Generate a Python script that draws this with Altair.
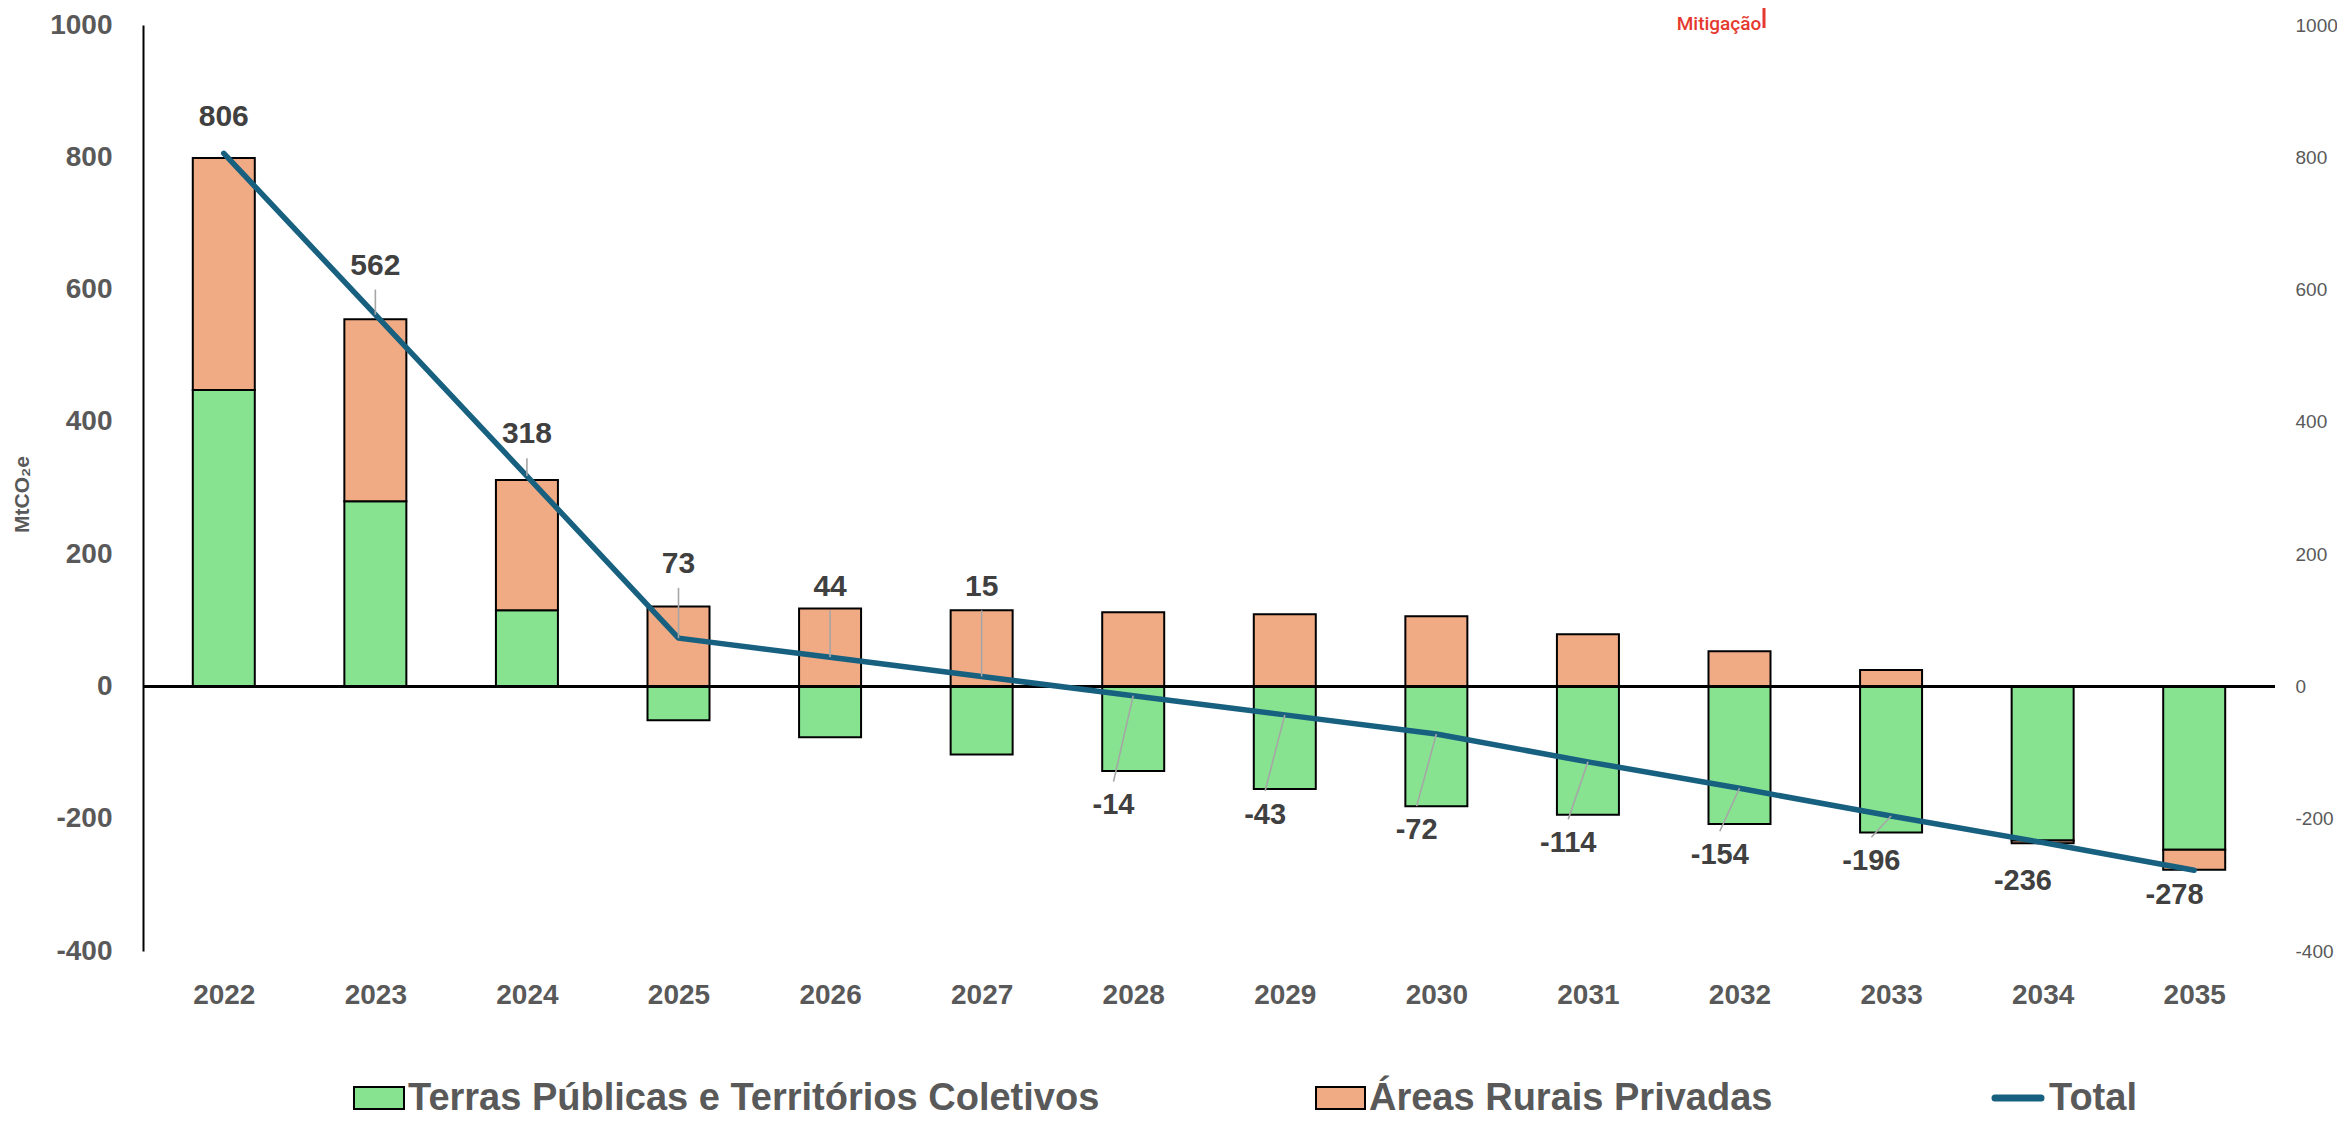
import altair as alt
import pandas as pd

# ---- data ----
years = list(range(2022, 2036))
series_names = ["Terras Públicas e Territórios Coletivos", "Áreas Rurais Privadas", "Total"]
terras = [448, 280, 115, -51, -77, -103, -128, -155, -181, -194, -208, -221, -233, -247]
areas = [351, 275, 197, 121, 118, 115, 112, 109, 106, 79, 53, 25, -4, -30]
total = [806, 562, 318, 73, 44, 15, -14, -43, -72, -114, -154, -196, -236, -278]
# vertical placement of each data label (in MtCO2e units), as placed in the reference
label_y = [861, 636, 381, 185, 151, 151, -180, -194, -217, -237, -255, -264, -294, -315]
y_ticks = [-400, -200, 0, 200, 400, 600, 800, 1000]

GREEN = "#87E390"
ORANGE = "#F1AB84"
BLUE = "#17607F"
GRAY_TXT = "#595959"
DARK_TXT = "#404040"
FONT = "Liberation Sans, Arial, sans-serif"
NARROW = "Liberation Sans Narrow, Arial Narrow, Liberation Sans, sans-serif"

W, H = 2132, 926

bars_df = pd.DataFrame({
    "year": years * 2,
    "series": [series_names[0]] * len(years) + [series_names[1]] * len(years),
    "value": terras + areas,
    "ord": [0] * len(years) + [1] * len(years),
})
tot_df = pd.DataFrame({"year": years, "total": total, "label_y": label_y})
one = pd.DataFrame({"k": [0]})

xscale = alt.Scale(domain=[2021.5, 2035.5], nice=False, zero=False)
yscale = alt.Scale(domain=[-400, 1000], nice=False, zero=False)

x_axis = alt.Axis(values=years, labelExpr="'' + datum.value", labelFont=FONT, labelFontSize=28,
                  labelFontWeight="bold", labelColor=GRAY_TXT, ticks=False, tickSize=0,
                  domain=False, grid=False, labelPadding=30, title=None)
y_left = alt.Axis(values=y_ticks, labelExpr="'' + datum.value", labelFont=FONT, labelFontSize=28,
                  labelFontWeight="bold", labelColor=GRAY_TXT, ticks=False, tickSize=0,
                  domain=True, domainColor="black", domainWidth=2, grid=False,
                  labelPadding=31, title="MtCO₂e", titleFont=FONT, titleFontSize=21,
                  titleFontWeight="bold", titleColor=GRAY_TXT, titleAngle=270,
                  titleX=-121, titleY=469, titleAlign="center", titleBaseline="middle")
y_right = alt.Axis(values=y_ticks, labelExpr="'' + datum.value", orient="right", labelFont=FONT,
                   labelFontSize=19, labelFontWeight="normal", labelColor=GRAY_TXT,
                   ticks=False, tickSize=0, domain=False, grid=False, labelPadding=20,
                   title=None)

x_year = alt.X("year:Q", scale=xscale, axis=x_axis)

bars = alt.Chart(bars_df).mark_bar(size=62, stroke="black", strokeWidth=2).encode(
    x=x_year,
    y=alt.Y("value:Q", scale=yscale, axis=y_left, stack="zero"),
    color=alt.Color("series:N", scale=alt.Scale(domain=series_names[:2], range=[GREEN, ORANGE]),
                    legend=None),
    order=alt.Order("ord:Q"),
)

zero = alt.Chart(pd.DataFrame({"v": [0]})).mark_rule(color="black", strokeWidth=3).encode(
    y=alt.Y("v:Q", scale=yscale, axis=y_right),
    x=alt.value(0), x2=alt.value(W),
)

line = alt.Chart(tot_df).mark_line(color=BLUE, strokeWidth=5.5, strokeCap="round",
                                   strokeJoin="round").encode(
    x=x_year,
    y=alt.Y("total:Q", scale=yscale, axis=None),
)

base_lbl = alt.Chart(tot_df).transform_calculate(
    lx="datum.total < 0 ? datum.year - 0.13 : datum.year",
    ly="datum.total < 0 ? datum.label_y + 36 : datum.label_y - 36",
    gap="abs(datum.label_y - datum.total)",
    txt="'' + datum.total",
)

leaders = base_lbl.transform_filter("datum.gap > 60").mark_rule(
    color="#A6A6A6", strokeWidth=1.6).encode(
    x=x_year,
    y=alt.Y("total:Q", scale=yscale, axis=None),
    x2="lx:Q", y2="ly:Q",
)

pos_lbl = base_lbl.transform_filter("datum.total >= 0").mark_text(
    font=FONT, fontSize=30, fontWeight="bold", color=DARK_TXT, baseline="middle").encode(
    x=alt.X("lx:Q", scale=xscale, axis=x_axis),
    y=alt.Y("label_y:Q", scale=yscale, axis=None),
    text=alt.Text("txt:N"),
)
neg_lbl = base_lbl.transform_filter("datum.total < 0").mark_text(
    font=NARROW, fontSize=29, fontWeight="bold", color=DARK_TXT, baseline="middle").encode(
    x=alt.X("lx:Q", scale=xscale, axis=x_axis),
    y=alt.Y("label_y:Q", scale=yscale, axis=None),
    text=alt.Text("txt:N"),
)

# ---- manual legend below the plot ----
LEG_FS = 38
LEG_BASE = 1085
sw1 = alt.Chart(one).mark_rect(fill=GREEN, stroke="black", strokeWidth=2).encode(
    x=alt.value(211), x2=alt.value(261), y=alt.value(LEG_BASE - 23), y2=alt.value(LEG_BASE - 1))
tx1 = alt.Chart(one).mark_text(align="left", baseline="alphabetic", font=NARROW,
                               fontSize=LEG_FS, fontWeight="bold", color=GRAY_TXT).encode(
    x=alt.value(265), y=alt.value(LEG_BASE), text=alt.value(series_names[0]))
sw2 = alt.Chart(one).mark_rect(fill=ORANGE, stroke="black", strokeWidth=2).encode(
    x=alt.value(1173), x2=alt.value(1222), y=alt.value(LEG_BASE - 23), y2=alt.value(LEG_BASE - 1))
tx2 = alt.Chart(one).mark_text(align="left", baseline="alphabetic", font=NARROW,
                               fontSize=LEG_FS, fontWeight="bold", color=GRAY_TXT).encode(
    x=alt.value(1226), y=alt.value(LEG_BASE), text=alt.value(series_names[1]))
sw3 = alt.Chart(one).mark_rule(color=BLUE, strokeWidth=7, strokeCap="round").encode(
    x=alt.value(1852), x2=alt.value(1898), y=alt.value(LEG_BASE - 12))
tx3 = alt.Chart(one).mark_text(align="left", baseline="alphabetic", font=NARROW,
                               fontSize=LEG_FS, fontWeight="bold", color=GRAY_TXT).encode(
    x=alt.value(1906), y=alt.value(LEG_BASE), text=alt.value(series_names[2]))

# ---- logo fragment at the top ----
logo_txt = alt.Chart(one).mark_text(align="center", baseline="middle", font="Roboto",
                                    fontSize=19, fontWeight=500, color="#E5392F").encode(
    x=alt.value(1576), y=alt.value(-1), text=alt.value("Mitigação"))
logo_bar = alt.Chart(one).mark_rule(color="#E5392F", strokeWidth=3).encode(
    x=alt.value(1621), y=alt.value(-17), y2=alt.value(3))

chart = alt.layer(
    bars, zero, line, leaders, pos_lbl, neg_lbl,
    sw1, tx1, sw2, tx2, sw3, tx3, logo_txt, logo_bar,
).resolve_axis(y="independent").properties(
    width=W, height=H,
    padding={"left": 135, "top": 17, "right": 62, "bottom": 167},
    autosize=alt.AutoSizeParams(type="none"),
    background="white",
).configure_view(stroke=None)

chart.save("out.html", embed_options={"renderer": "svg", "actions": False})
